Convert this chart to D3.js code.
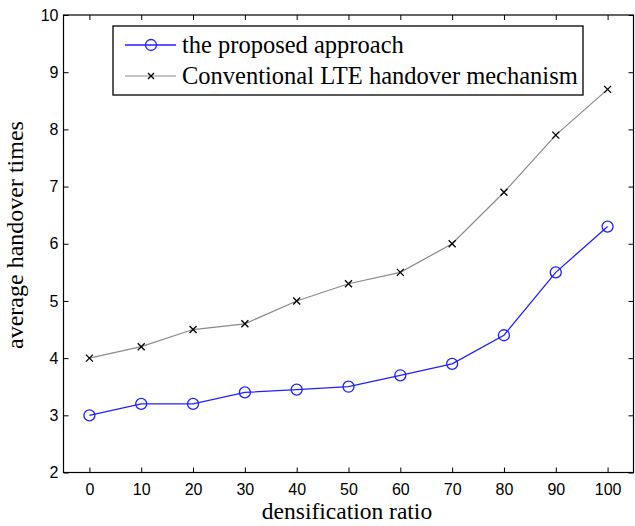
<!DOCTYPE html>
<html><head><meta charset="utf-8">
<script src="https://cdn.jsdelivr.net/npm/d3@7"></script>
<style>body{margin:0;background:#fff}</style>
</head><body>
<svg id="c" width="635" height="526"></svg>
<script>
const ratios = [0,10,20,30,40,50,60,70,80,90,100];
const proposed = [3.0,3.2,3.2,3.4,3.45,3.5,3.7,3.9,4.4,5.5,6.3];
const conventional = [4.0,4.2,4.5,4.6,5.0,5.3,5.5,6.0,6.9,7.9,8.7];
const xTicks = [0,10,20,30,40,50,60,70,80,90,100];
const yTicks = [2,3,4,5,6,7,8,9,10];
const seriesNames = ["the proposed approach","Conventional LTE handover mechanism"];

const svg = d3.select("#c");
const L=63.5, R=633.5, T=15, B=472.5;
const x = d3.scaleLinear().domain([-5,105]).range([L,R]);
const y = d3.scaleLinear().domain([2,10]).range([B,T]);
const tickFont = "Liberation Sans, Arial, sans-serif";
const serif = "Liberation Serif, Times New Roman, serif";

// frame
svg.append("rect").attr("x",L).attr("y",T).attr("width",R-L).attr("height",B-T)
  .attr("fill","none").attr("stroke","#000").attr("stroke-width",1.2);

// axes with inward ticks
const ax = svg.append("g");
ax.append("g").attr("transform",`translate(0,${B})`)
  .call(d3.axisBottom(x).tickValues(xTicks).tickSize(-5).tickPadding(11))
  .call(g=>g.select(".domain").remove());
ax.append("g").attr("transform",`translate(0,${T})`)
  .call(d3.axisTop(x).tickValues(xTicks).tickSize(-5).tickFormat(""))
  .call(g=>g.select(".domain").remove());
ax.append("g").attr("transform",`translate(${L},0)`)
  .call(d3.axisLeft(y).tickValues(yTicks).tickSize(-5).tickPadding(5))
  .call(g=>g.select(".domain").remove());
ax.append("g").attr("transform",`translate(${R},0)`)
  .call(d3.axisRight(y).tickValues(yTicks).tickSize(-5).tickFormat(""))
  .call(g=>g.select(".domain").remove());
ax.selectAll("text").attr("font-family",tickFont).attr("font-size",16).attr("fill","#000");
ax.selectAll("line").attr("stroke","#000");

// axis labels
svg.append("text").attr("x",347).attr("y",519).attr("text-anchor","middle")
  .attr("font-family",serif).attr("font-size",23.5).text("densification ratio");
svg.append("text").attr("transform","translate(23,235) rotate(-90)").attr("text-anchor","middle")
  .attr("font-family",serif).attr("font-size",24).text("average handover times");

const line = d3.line().x((d,i)=>x(ratios[i])).y(d=>y(d));
// conventional
svg.append("path").datum(conventional).attr("d",line).attr("fill","none").attr("stroke","#8a8a8a").attr("stroke-width",1.2);
const xm = (g,cx,cy,s)=>{g.append("path").attr("d",`M${cx-s},${cy-s}L${cx+s},${cy+s}M${cx-s},${cy+s}L${cx+s},${cy-s}`)
  .attr("stroke","#000").attr("stroke-width",1.3).attr("fill","none");};
const cg = svg.append("g");
conventional.forEach((v,i)=>xm(cg,x(ratios[i]),y(v),3.5));
// proposed
svg.append("path").datum(proposed).attr("d",line).attr("fill","none").attr("stroke","#2020ff").attr("stroke-width",1.3);
svg.append("g").selectAll("circle").data(proposed).join("circle")
  .attr("cx",(d,i)=>x(ratios[i])).attr("cy",d=>y(d)).attr("r",5.5)
  .attr("fill","none").attr("stroke","#2020ff").attr("stroke-width",1.3);

// legend
const lg = svg.append("g");
lg.append("rect").attr("x",113).attr("y",26).attr("width",470).attr("height",69)
  .attr("fill","#fff").attr("stroke","#000").attr("stroke-width",1.3);
lg.append("line").attr("x1",125).attr("x2",176).attr("y1",45).attr("y2",45).attr("stroke","#2020ff").attr("stroke-width",1.3);
lg.append("circle").attr("cx",151).attr("cy",45).attr("r",5.5).attr("fill","none").attr("stroke","#2020ff").attr("stroke-width",1.3);
lg.append("line").attr("x1",125).attr("x2",176).attr("y1",76).attr("y2",76).attr("stroke","#8a8a8a").attr("stroke-width",1.2);
xm(lg,151,76,3);
lg.append("text").attr("x",182).attr("y",53).attr("font-family",serif).attr("font-size",24.5).text(seriesNames[0]);
lg.append("text").attr("x",182).attr("y",84).attr("font-family",serif).attr("font-size",24.5).text(seriesNames[1]);
</script>
</body></html>
